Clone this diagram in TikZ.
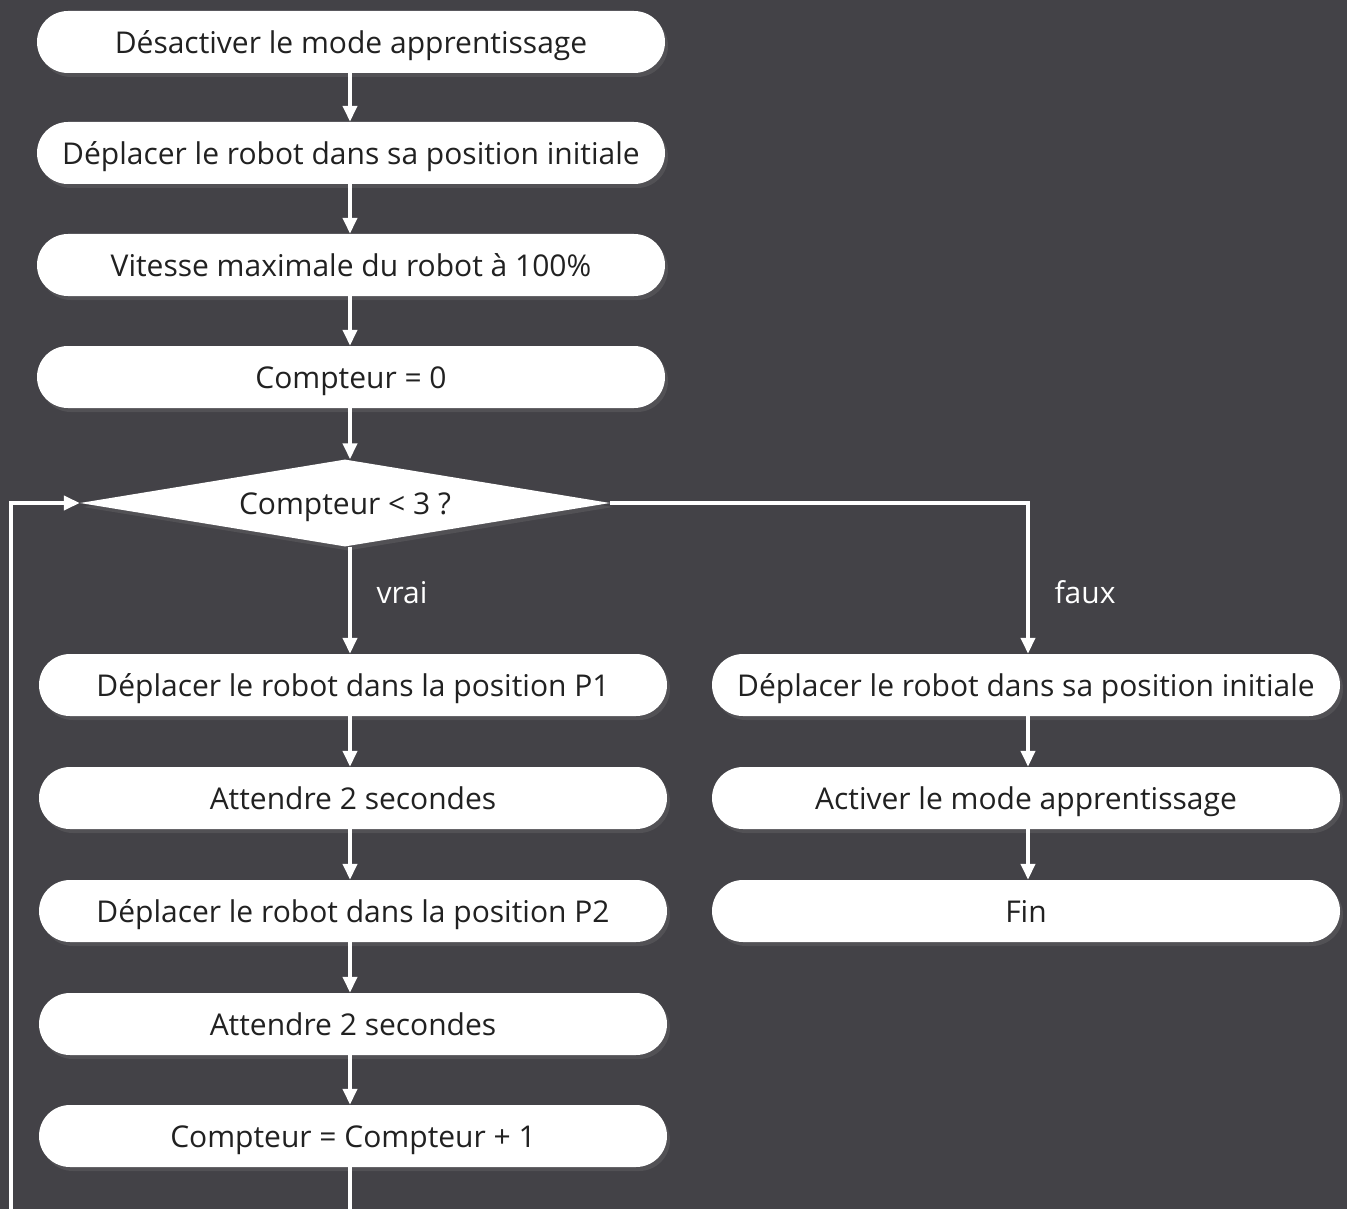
\documentclass[tikz,border=0pt]{standalone}
\usepackage{fontspec}
\setmainfont{Open Sans}
\usetikzlibrary{shapes.geometric,arrows.meta,shadows}
\definecolor{bg}{RGB}{67,66,71}
\definecolor{txt}{RGB}{33,33,33}
\tikzset{
  x=1pt,y=-1pt,
  pill/.style={draw=none,fill=white,rounded corners=31pt,minimum width=628pt,minimum height=62pt,
    inner sep=0pt,text=txt,font=\fontsize{30}{34}\selectfont,text height=23pt,text depth=0pt,
    drop shadow={opacity=0.25,shadow xshift=3pt,shadow yshift=-4pt}},
  dec/.style={diamond,aspect=6.1,draw=none,fill=white,minimum width=530pt,minimum height=87pt,inner sep=0pt,
    text=txt,font=\fontsize{30}{34}\selectfont,text height=23pt,text depth=0pt,
    drop shadow={opacity=0.25,shadow xshift=3pt,shadow yshift=-4pt}},
  conn/.style={draw=white,line width=4pt,-{Triangle[length=16pt,width=14pt]}},
  plain/.style={draw=white,line width=4pt},
  lab/.style={text=white,font=\fontsize{30}{34}\selectfont,text height=23pt,text depth=0pt}
}
\begin{document}
\begin{tikzpicture}
\fill[bg] (0,0) rectangle (1347,1209);
\clip (0,0) rectangle (1347,1209);
\node[pill] (b1) at (351,42) {Désactiver le mode apprentissage};
\node[pill] (b2) at (351,153) {Déplacer le robot dans sa position initiale};
\node[pill] (b3) at (351,265) {Vitesse maximale du robot à 100\%};
\node[pill] (b4) at (351,377) {Compteur = 0};
\node[dec] (d) at (345,503) {Compteur < 3 ?};
\node[pill] (l1) at (353,685) {Déplacer le robot dans la position P1};
\node[pill] (l2) at (353,798) {Attendre 2 secondes};
\node[pill] (l3) at (353,911) {Déplacer le robot dans la position P2};
\node[pill] (l4) at (353,1024) {Attendre 2 secondes};
\node[pill] (l5) at (353,1136) {Compteur = Compteur + 1};
\node[pill] (r1) at (1026,685) {Déplacer le robot dans sa position initiale};
\node[pill] (r2) at (1026,798) {Activer le mode apprentissage};
\node[pill] (r3) at (1026,911) {Fin};
\node[lab] (vrai) at (402,592) {vrai};
\node[lab] (faux) at (1085,592) {faux};
\coordinate (bx) at (350,1230);
\coordinate (lx) at (11,1230);
\draw[conn] (b1.south -| 350,0) -- (b2.north -| 350,0);
\draw[conn] (b2.south -| 350,0) -- (b3.north -| 350,0);
\draw[conn] (b3.south -| 350,0) -- (b4.north -| 350,0);
\draw[conn] (b4.south -| 350,0) -- (d.north -| 350,0);
\draw[conn] (d.south -| 350,0) -- (l1.north -| 350,0);
\draw[conn] (l1.south -| 350,0) -- (l2.north -| 350,0);
\draw[conn] (l2.south -| 350,0) -- (l3.north -| 350,0);
\draw[conn] (l3.south -| 350,0) -- (l4.north -| 350,0);
\draw[conn] (l4.south -| 350,0) -- (l5.north -| 350,0);
\draw[plain] (l5.south -| 350,0) -- (bx);
\draw[conn] (d.east) -| (r1.north -| 1028,0);
\draw[conn] (r1.south -| 1028,0) -- (r2.north -| 1028,0);
\draw[conn] (r2.south -| 1028,0) -- (r3.north -| 1028,0);
\draw[conn] (lx) |- (d.west);
\end{tikzpicture}
\end{document}
